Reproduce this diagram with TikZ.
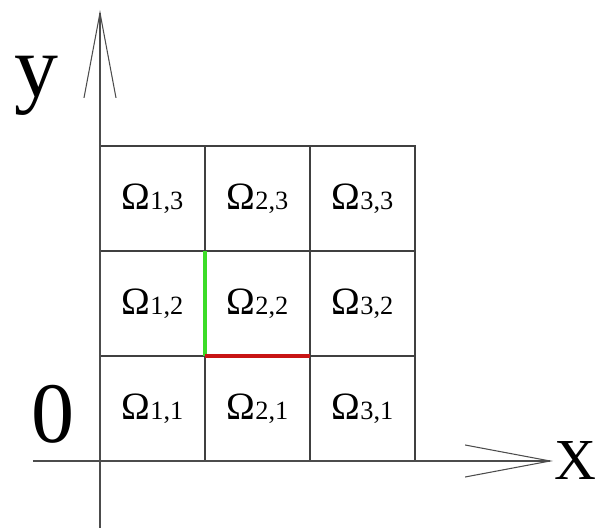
\documentclass[tikz,border=0pt]{standalone}
\usepackage{fontspec}
\setmainfont{Liberation Serif}
\usetikzlibrary{positioning,arrows.meta}
\definecolor{edgegreen}{RGB}{60,220,40}
\definecolor{edgered}{RGB}{200,20,20}

\begin{document}
\begin{tikzpicture}[
    cell/.style={
        rectangle,draw=black!75,line width=0.6pt,
        minimum size=2.1cm,
        outer sep=0pt,inner sep=0pt,
        font=\fontsize{22}{22}\selectfont
    },
    axis/.style={
        draw=black!70,line width=0.6pt,
        -{Straight Barb[length=1.7cm,width=0.64cm]}
    }
]
\useasboundingbox (-2.0,-1.34) rectangle (9.94,9.22);

\node[cell, anchor=south west] (c11) at (0,0) {Ω{\fontsize{15}{15}\selectfont 1,1}};
\node[cell, right=0pt of c11] (c21) {Ω{\fontsize{15}{15}\selectfont 2,1}};
\node[cell, right=0pt of c21] (c31) {Ω{\fontsize{15}{15}\selectfont 3,1}};
\node[cell, above=0pt of c11] (c12) {Ω{\fontsize{15}{15}\selectfont 1,2}};
\node[cell, right=0pt of c12] (c22) {Ω{\fontsize{15}{15}\selectfont 2,2}};
\node[cell, right=0pt of c22] (c32) {Ω{\fontsize{15}{15}\selectfont 3,2}};
\node[cell, above=0pt of c12] (c13) {Ω{\fontsize{15}{15}\selectfont 1,3}};
\node[cell, right=0pt of c13] (c23) {Ω{\fontsize{15}{15}\selectfont 2,3}};
\node[cell, right=0pt of c23] (c33) {Ω{\fontsize{15}{15}\selectfont 3,3}};

% axes
\coordinate (xstart) at (-1.34,0);
\coordinate (xend) at (9.06,0);
\coordinate (ystart) at (0,-1.34);
\coordinate (yend) at (0,9.02);
\draw[axis] (xstart) -- (xend);
\draw[axis] (ystart) -- (yend);

\node[anchor=west, inner sep=0pt, font=\fontsize{33}{33}\selectfont] (xlabel) at (9.08,0) {X};
\node[anchor=base, inner sep=0pt, font=\fontsize{50}{50}\selectfont] (ylabel) at (-1.28,7.28) {y};
\node[anchor=base, inner sep=0pt, font=\fontsize{49}{49}\selectfont] (origin) at (-0.93,0.36) {0};

% shared edges of the middle cell
\draw[edgegreen, line width=2.2pt] (c22.south west) -- (c22.north west);
\draw[edgered, line width=2.2pt] (c22.south west) -- (c22.south east);
\end{tikzpicture}
\end{document}
